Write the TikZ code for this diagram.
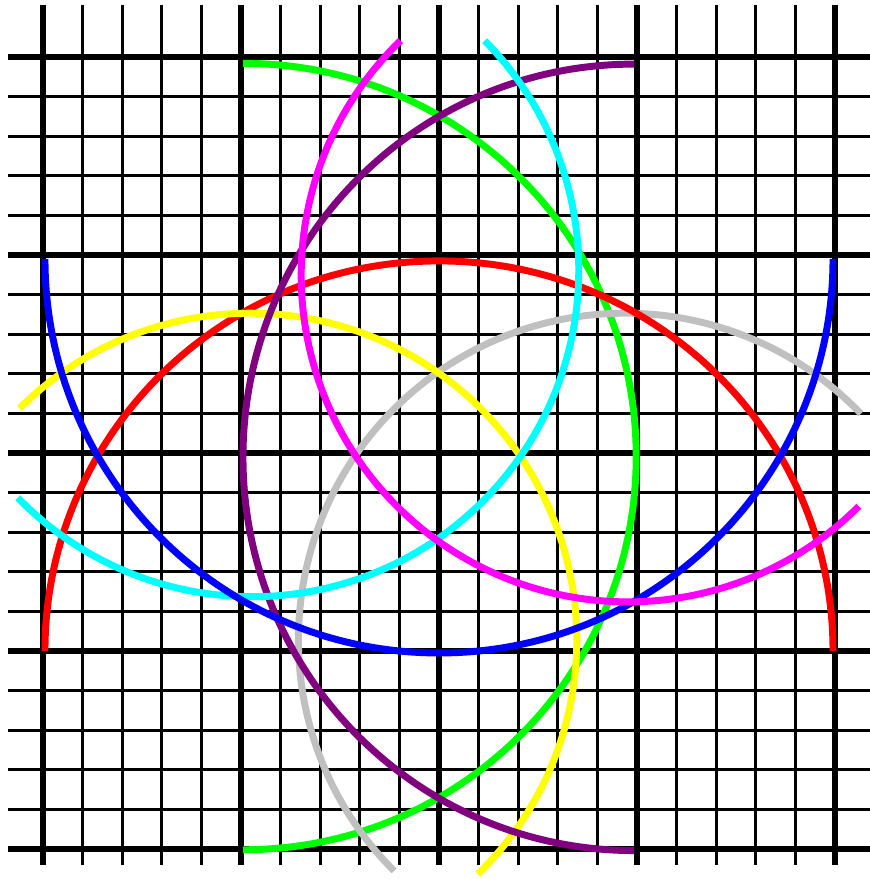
\documentclass[tikz,border=0pt]{standalone}
\definecolor{cgreen}{RGB}{0,255,0}
\definecolor{cpurple}{RGB}{128,0,128}
\definecolor{cmagenta}{RGB}{255,0,255}
\definecolor{ccyan}{RGB}{0,255,255}
\definecolor{cyellow}{RGB}{255,255,0}
\definecolor{cgray}{RGB}{192,192,192}
\begin{document}
\begin{tikzpicture}[
  thinline/.style={line width=2.4pt,black},
  thickline/.style={line width=4.4pt,black},
  curve/.style={line width=5pt}]
\useasboundingbox (-11.086,-10.758) rectangle (10.859,11.439);
% grid
\foreach \i in {-10,...,10}{
  \pgfmathtruncatemacro{\m}{mod(abs(\i),5)}
  \ifnum\m=0
    \draw[thickline] (\i,-10.40) -- (\i,11.31);
    \draw[thickline] (-10.88,\i) -- (10.9,\i);
  \else
    \draw[thinline] (\i,-10.40) -- (\i,11.31);
    \draw[thinline] (-10.88,\i) -- (10.9,\i);
  \fi
}
% arcs
\coordinate (gc) at (-4.95,-0.09);
\coordinate (yc) at (-4.77,-4.72);
\coordinate (rc) at (0,-5);
\coordinate (sc) at (4.70,-4.72);
\coordinate (pc) at (4.92,-0.11);
\coordinate (mc) at (4.77,4.49);
\coordinate (bc) at (0,4.90);
\coordinate (cc) at (-4.72,4.62);
\draw[curve,cgreen] (gc) ++(90:9.93) arc[start angle=90,end angle=-90,x radius=9.93,y radius=9.93];
\draw[curve,cgray] (sc) ++(225:8.25) arc[start angle=225,end angle=43.8,radius=8.25];
\draw[curve,red] (rc) ++(-9.95,0) arc[start angle=180,end angle=0,x radius=9.95,y radius=9.85];
\draw[curve,cyellow] (yc) ++(134.9:8.25) arc[start angle=134.9,end angle=-45.8,radius=8.25];
\draw[curve,cpurple] (pc) ++(90:9.93) arc[start angle=90,end angle=270,x radius=9.87,y radius=9.93];
\draw[curve,ccyan] (cc) ++(44.6:8.25) arc[start angle=44.6,end angle=-135.8,radius=8.25];
\draw[curve,blue] (bc) ++(-9.95,0) arc[start angle=180,end angle=360,radius=9.95];
\draw[curve,cmagenta] (mc) ++(134.1:8.25) arc[start angle=134.1,end angle=315,radius=8.25];
\end{tikzpicture}
\end{document}
